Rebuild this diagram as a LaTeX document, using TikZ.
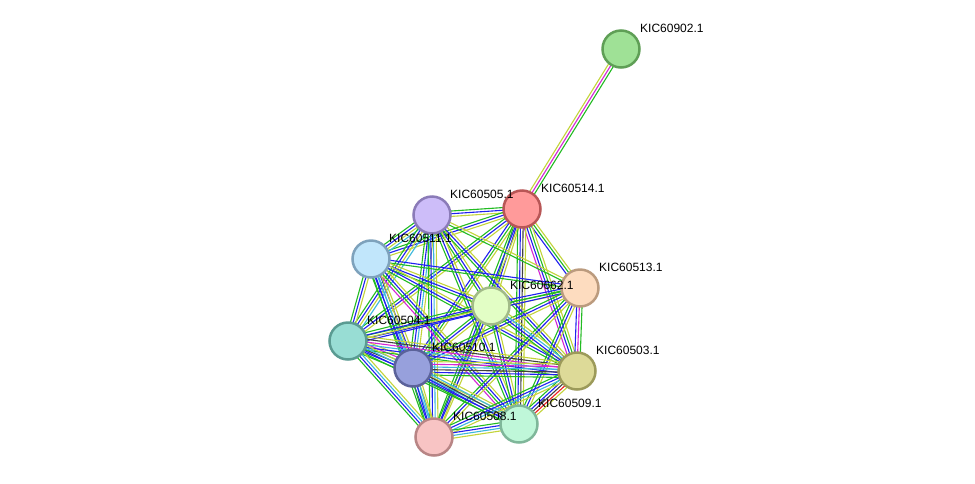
\documentclass[tikz,border=0pt]{standalone}
\usepackage{fontspec}
\setmainfont{Liberation Sans}
\usetikzlibrary{calc}
\definecolor{eg}{HTML}{22BB22}
\definecolor{eb}{HTML}{2020F0}
\definecolor{ey}{HTML}{C3D43A}
\definecolor{ec}{HTML}{3CB8DC}
\definecolor{em}{HTML}{D526D5}
\definecolor{ek}{HTML}{404040}
\definecolor{er}{HTML}{F02020}
\definecolor{b902}{HTML}{5F9F56}\definecolor{f902}{HTML}{9FE196}
\definecolor{b514}{HTML}{B85656}\definecolor{f514}{HTML}{FF9A9A}
\definecolor{b505}{HTML}{8B7BB8}\definecolor{f505}{HTML}{CDBDF9}
\definecolor{b511}{HTML}{7EA2BC}\definecolor{f511}{HTML}{C1E6FB}
\definecolor{b513}{HTML}{BB9B7E}\definecolor{f513}{HTML}{FDDCBF}
\definecolor{b662}{HTML}{A2BB88}\definecolor{f662}{HTML}{E2FEC5}
\definecolor{b504}{HTML}{5A9B92}\definecolor{f504}{HTML}{98DDD4}
\definecolor{b510}{HTML}{5B629A}\definecolor{f510}{HTML}{97A0DC}
\definecolor{b503}{HTML}{9C9A5A}\definecolor{f503}{HTML}{DDDA98}
\definecolor{b509}{HTML}{7FB79A}\definecolor{f509}{HTML}{BFF7D9}
\definecolor{b508}{HTML}{B88585}\definecolor{f508}{HTML}{F8C4C4}
\newcommand\stredge[4]{%
  \foreach \cc [count=\ii] in {#4} {%
    \pgfmathsetmacro\off{(\ii-(#3+1)/2)*2.7}%
    \draw[\cc, line width=1.1pt] ($(#1)!\off pt!90:(#2)$) -- ($(#2)!\off pt!-90:(#1)$);
  }}
\tikzset{
  prot/.style={circle, minimum size=37pt, inner sep=0pt, line width=2.5pt, draw=b#1, fill=f#1},
  plabel/.style={anchor=base west, font=\fontsize{12pt}{14pt}\selectfont, inner sep=0pt, text=black}
}
\begin{document}
\begin{tikzpicture}[x=1pt,y=-1pt]
\useasboundingbox (0,0) rectangle (975,483);
\fill[white] (0,0) rectangle (975,483);
\coordinate (c902) at (621,49);
\coordinate (c514) at (522,209);
\coordinate (c505) at (432,215);
\coordinate (c511) at (371,259);
\coordinate (c513) at (580,288);
\coordinate (c662) at (491,306);
\coordinate (c504) at (348,341);
\coordinate (c510) at (413,368);
\coordinate (c503) at (577,371);
\coordinate (c509) at (519,424);
\coordinate (c508) at (434,437);
% edges
\stredge{c514}{c902}{3}{eg,em,ey}
\stredge{c514}{c505}{3}{eg,eb,ey}
\stredge{c514}{c511}{3}{eg,eb,ey}
\stredge{c514}{c513}{3}{eb,eg,ey}
\stredge{c514}{c662}{3}{eg,eb,ey}
\stredge{c514}{c504}{3}{eg,eb,ey}
\stredge{c514}{c510}{3}{eb,eg,ey}
\stredge{c514}{c503}{4}{em,eb,eg,ey}
\stredge{c514}{c509}{4}{eg,eb,ek,ey}
\stredge{c514}{c508}{3}{eg,eb,ey}
\stredge{c505}{c511}{4}{eg,eb,ey,ec}
\stredge{c505}{c513}{2}{eg,ey}
\stredge{c505}{c662}{3}{eg,eb,ey}
\stredge{c505}{c504}{4}{eg,eb,ey,ec}
\stredge{c505}{c510}{4}{eg,eb,ec,ey}
\stredge{c505}{c503}{3}{eg,eb,ey}
\stredge{c505}{c509}{3}{eg,eb,ey}
\stredge{c505}{c508}{4}{eg,eb,ec,ey}
\stredge{c511}{c513}{2}{eg,eb}
\stredge{c511}{c662}{3}{eg,eb,ey}
\stredge{c511}{c504}{3}{eg,eb,ey}
\stredge{c511}{c510}{5}{eg,eb,ec,eb,ey}
\stredge{c511}{c503}{3}{eg,eb,ey}
\stredge{c511}{c509}{4}{em,eg,eb,ey}
\stredge{c511}{c508}{4}{eg,eb,ec,ey}
\stredge{c513}{c662}{3}{eb,eg,ey}
\stredge{c513}{c504}{2}{eg,eb}
\stredge{c513}{c510}{3}{eg,eb,ey}
\stredge{c513}{c503}{3}{eb,em,eg}
\stredge{c513}{c509}{3}{eg,eb,ey}
\stredge{c513}{c508}{3}{eg,eb,ey}
\stredge{c662}{c504}{4}{eg,eb,ey,eb}
\stredge{c662}{c510}{3}{eg,eb,ey}
\stredge{c662}{c503}{4}{eg,eb,ec,ey}
\stredge{c662}{c509}{3}{eg,eb,ey}
\stredge{c662}{c508}{3}{eg,eb,ey}
\stredge{c504}{c510}{6}{eg,eb,ek,ec,em,ey}
\stredge{c504}{c503}{6}{eg,eb,ec,em,ek,ey}
\stredge{c504}{c509}{4}{eg,eb,ec,ey}
\stredge{c504}{c508}{4}{eg,eb,ec,ey}
\stredge{c510}{c503}{6}{eg,eb,ek,ec,em,ey}
\stredge{c510}{c509}{5}{eg,eb,ek,ec,ey}
\stredge{c510}{c508}{4}{eg,eb,ec,ey}
\stredge{c503}{c509}{5}{eg,eb,ek,er,ey}
\stredge{c503}{c508}{4}{eg,eb,ec,ey}
\stredge{c509}{c508}{4}{eg,eb,ec,ey}
% nodes
\node[prot=902] (n902) at (c902) {};
\node[prot=514] (n514) at (c514) {};
\node[prot=505] (n505) at (c505) {};
\node[prot=511] (n511) at (c511) {};
\node[prot=513] (n513) at (c513) {};
\node[prot=662] (n662) at (c662) {};
\node[prot=504] (n504) at (c504) {};
\node[prot=510] (n510) at (c510) {};
\node[prot=503] (n503) at (c503) {};
\node[prot=509] (n509) at (c509) {};
\node[prot=508] (n508) at (c508) {};
% labels
\node[plabel] (l902) at ($(c902)+(19,-17)$) {KIC60902.1};
\node[plabel] (l514) at ($(c514)+(19,-17)$) {KIC60514.1};
\node[plabel] (l505) at ($(c505)+(18,-17)$) {KIC60505.1};
\node[plabel] (l511) at ($(c511)+(18,-17)$) {KIC60511.1};
\node[plabel] (l513) at ($(c513)+(19,-17)$) {KIC60513.1};
\node[plabel] (l662) at ($(c662)+(19,-17)$) {KIC60662.1};
\node[plabel] (l504) at ($(c504)+(19,-17)$) {KIC60504.1};
\node[plabel] (l510) at ($(c510)+(19,-17)$) {KIC60510.1};
\node[plabel] (l503) at ($(c503)+(19,-17)$) {KIC60503.1};
\node[plabel] (l509) at ($(c509)+(19,-17)$) {KIC60509.1};
\node[plabel] (l508) at ($(c508)+(19,-17)$) {KIC60508.1};
\end{tikzpicture}
\end{document}
